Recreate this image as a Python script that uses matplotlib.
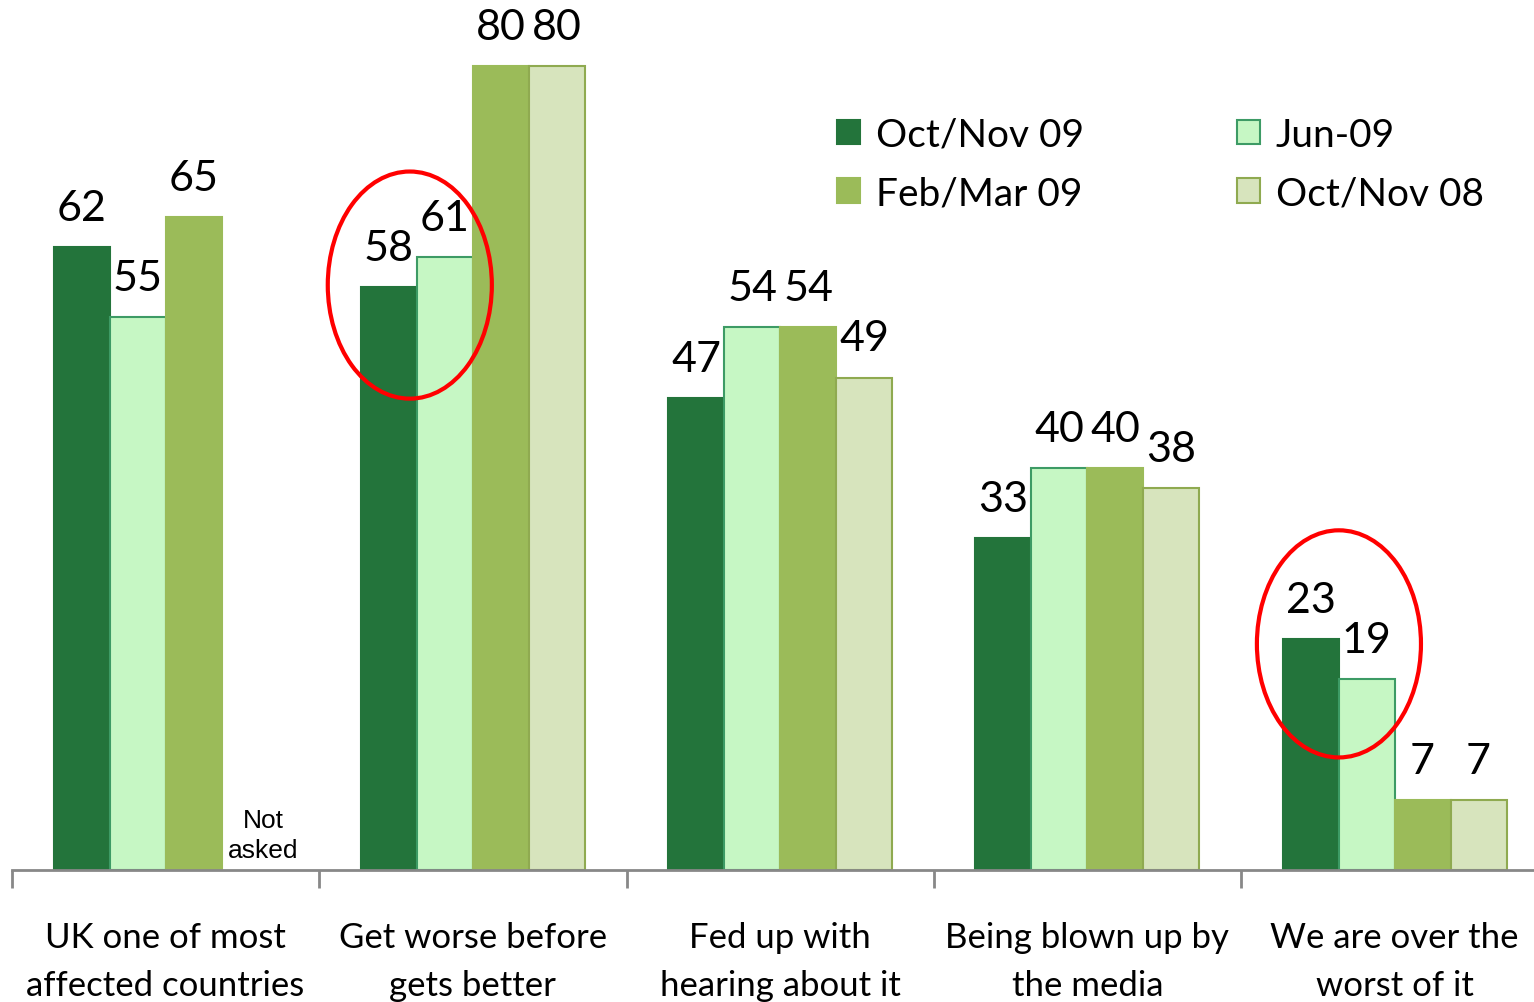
import numpy as np
import matplotlib.pyplot as plt
from matplotlib.patches import Ellipse

plt.rcParams['font.family'] = ['Lato', 'DejaVu Sans']

categories = ['UK one of most\naffected countries', 'Get worse before\ngets better',
              'Fed up with\nhearing about it', 'Being blown up by\nthe media',
              'We are over the\nworst of it']
series_names = ['Oct/Nov 09', 'Jun-09', 'Feb/Mar 09', 'Oct/Nov 08']
oct_nov_09 = [62, 58, 47, 33, 23]
jun_09 = [55, 61, 54, 40, 19]
feb_mar_09 = [65, 80, 54, 40, 7]
oct_nov_08 = [np.nan, 80, 49, 38, 7]

values = [oct_nov_09, jun_09, feb_mar_09, oct_nov_08]
faces = ['#23743b', '#c6f7c4', '#9bbb59', '#d7e4bd']
edges = ['#23743b', '#3d9b65', '#9bbb59', '#8faa50']

fig = plt.figure(figsize=(15.34, 10.03), dpi=100)
ax = fig.add_axes([12 / 1534, 132 / 1003, 1522 / 1534, 871 / 1003])

x = np.arange(len(categories))
w = 56 / 307.25
for k, (vals, fc, ec, name) in enumerate(zip(values, faces, edges, series_names)):
    pos = x + (k - 1.5) * w
    ax.bar(pos, vals, width=w, color=fc, edgecolor=ec, linewidth=1.5, label=name)
    for px, v in zip(pos, vals):
        if not np.isnan(v):
            ax.text(px, v + 2, str(int(v)), ha='center', va='bottom', fontsize=31)

ax.text(x[0] + 1.5 * w + 0.045, 0.8, 'Not\nasked', ha='center', va='bottom', fontsize=19,
        family='Liberation Sans', linespacing=1.3)

# red circles
for cx, cy in [(x[1] - w - 0.023, 58.2), (x[4] - w + 0.001, 22.5)]:
    ax.add_patch(Ellipse((cx, cy), 0.534, 22.6, fill=False, edgecolor='#ff0000', linewidth=3))

for s in ['top', 'right', 'left']:
    ax.spines[s].set_visible(False)
ax.spines['bottom'].set_color('#888888')
ax.spines['bottom'].set_linewidth(2)
ax.set_yticks([])
ax.set_xticks(np.arange(-0.5, 4, 1))
ax.set_xticklabels([])
ax.tick_params(axis='x', which='major', length=13, width=2, color='#888888', direction='out')
ax.set_xticks(x, minor=True)
ax.set_xticklabels(categories, minor=True, fontsize=25, linespacing=1.6)
ax.tick_params(axis='x', which='minor', length=0, pad=37)
ax.set_xlim(-0.5, -0.5 + 1522 / 307.25)
ax.set_ylim(0, 871 / 10.05)

handles, labels = ax.get_legend_handles_labels()
order = [0, 2, 1, 3]
ax.legend([handles[i] for i in order], [labels[i] for i in order], ncol=2,
          loc='upper left', bbox_to_anchor=(0.519, 0.905), frameon=False,
          fontsize=28, handlelength=0.6, handleheight=0.6, handletextpad=0.4,
          columnspacing=3.93, labelspacing=0.58)

fig.savefig('out.png', dpi=100)
